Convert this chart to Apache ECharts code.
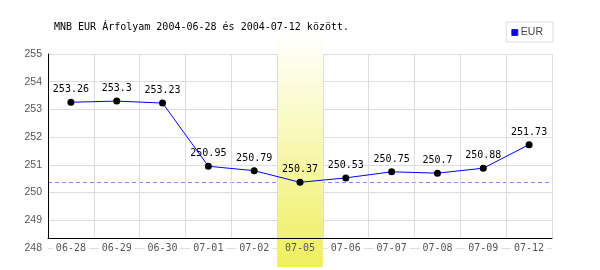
<!DOCTYPE html>
<html>
<head>
<meta charset="utf-8">
<script src="https://cdn.jsdelivr.net/npm/echarts@6/dist/echarts.min.js"></script>
<style>html,body{margin:0;padding:0;background:#fff}#c{width:600px;height:270px}</style>
</head>
<body>
<div id="c"></div>
<script>
const categories = ['06-28','06-29','06-30','07-01','07-02','07-05','07-06','07-07','07-08','07-09','07-12'];
const eurValues = [253.26, 253.3, 253.23, 250.95, 250.79, 250.37, 250.53, 250.75, 250.7, 250.88, 251.73];
const highlightDay = '07-05';
const yMin = 248, yMax = 255, yStep = 1;
const titleText = 'MNB EUR Árfolyam 2004-06-28 és 2004-07-12 között.';

const mono = 'DejaVu Sans Mono';
const chart = echarts.init(document.getElementById('c'), null, {renderer: 'canvas'});
const bandData = categories.map(c => c === highlightDay ? 1 : '-');

chart.setOption({
  animation: false,
  title: {
    text: titleText, left: 54, top: 22, padding: 0,
    textStyle: {fontFamily: mono, fontSize: 10, fontWeight: 'normal', color: '#000'}
  },
  legend: {
    data: [{name: 'EUR', itemStyle: {color: '#0000ff', borderColor: '#333', borderWidth: 1}}],
    right: 47, top: 22, orient: 'vertical',
    padding: [5, 10, 4, 5], borderColor: '#ddd', borderWidth: 1,
    itemWidth: 6, itemHeight: 6, itemGap: 4, icon: 'rect',
    textStyle: {fontFamily: 'Liberation Sans', fontSize: 10.5, color: '#444', padding: [0,0,0,-2]}
  },
  grid: [
    {left: 48, right: 48, top: 54, bottom: 22},
    {left: 48, right: 48, top: 54, bottom: 32},
    {left: 48, right: 48, top: 33, bottom: 3}
  ],
  xAxis: [
    {
      gridIndex: 0, type: 'category', data: categories, z: 2,
      axisLine: {show: false}, axisTick: {show: false}, splitLine: {show: false},
      axisLabel: {
        margin: 0, verticalAlign: 'middle', interval: 0,
        formatter: v => v === highlightDay ? '{h|' + v + '}' : '{n|' + v + '}',
        rich: {
          n: {fontFamily: mono, fontSize: 10, color: '#555', backgroundColor: '#fff', padding: [1, 3]},
          h: {fontFamily: mono, fontSize: 10, color: '#555', padding: [1, 3]}
        }
      }
    },
    {
      gridIndex: 1, type: 'category', data: categories, z: 3,
      axisLine: {show: true, lineStyle: {color: '#000', width: 1}},
      axisTick: {show: false}, axisLabel: {show: false},
      splitLine: {show: true, lineStyle: {color: '#ddd', width: 1}}
    },
    {
      gridIndex: 2, type: 'category', data: categories, show: false
    }
  ],
  yAxis: [
    {
      gridIndex: 0, type: 'value', min: yMin, max: yMax, interval: yStep, z: 0,
      axisLine: {show: false}, axisTick: {show: false},
      splitLine: {show: true, lineStyle: {color: '#ddd', width: 1}},
      axisLabel: {margin: 6, fontFamily: 'Liberation Sans', fontSize: 10.5, color: '#555'}
    },
    {
      gridIndex: 1, type: 'value', min: 0, max: 1, z: 3,
      axisLine: {show: true, lineStyle: {color: '#000', width: 1}},
      axisTick: {show: false}, axisLabel: {show: false}, splitLine: {show: false}
    },
    {
      gridIndex: 2, type: 'value', min: 0, max: 1, show: false
    }
  ],
  series: [
    {
      type: 'bar', xAxisIndex: 2, yAxisIndex: 2, data: bandData, z: 1,
      barWidth: '100%', barGap: '0%', silent: true,
      itemStyle: {
        color: new echarts.graphic.LinearGradient(0, 0, 0, 1, [
          {offset: 0, color: '#ffffff'},
          {offset: 0.15, color: '#fdfde8'},
          {offset: 1, color: '#efef5e'}
        ])
      }
    },
    {
      name: 'EUR', type: 'line', xAxisIndex: 0, yAxisIndex: 0, data: eurValues, z: 5,
      symbol: 'circle', symbolSize: 7,
      lineStyle: {color: '#0000ff', width: 1},
      itemStyle: {color: '#000'},
      label: {show: true, position: 'top', distance: 4, fontFamily: mono, fontSize: 10, color: '#000'},
      markLine: {
        silent: true, symbol: 'none', z: 0.5,
        label: {show: false},
        lineStyle: {color: '#8888ff', type: [4, 3], width: 1},
        data: [{type: 'min'}]
      }
    }
  ]
});
</script>
</body>
</html>
